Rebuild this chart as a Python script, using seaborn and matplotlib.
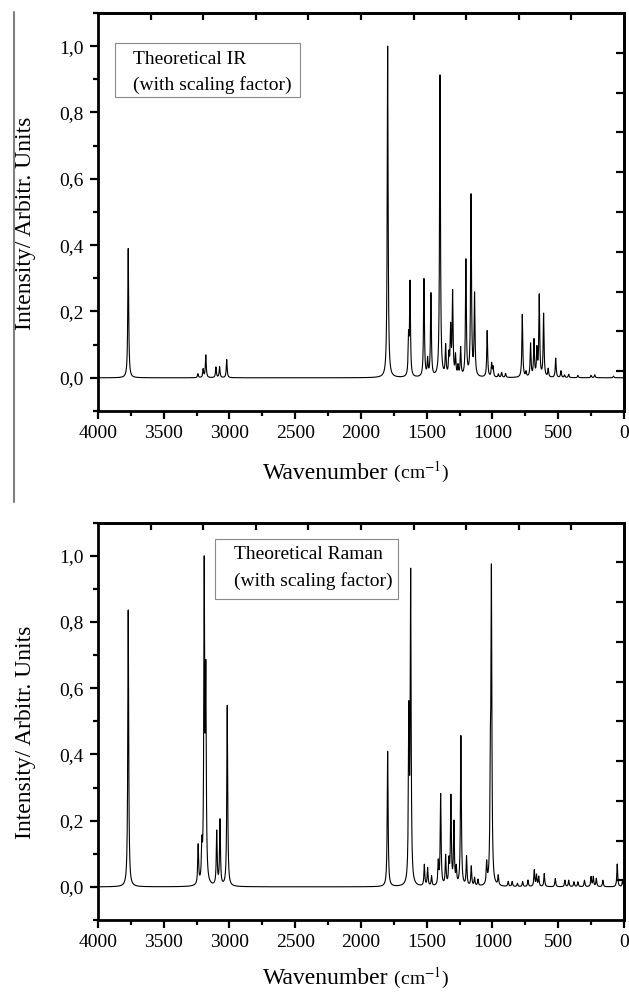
import matplotlib.pyplot as plt
import numpy as np
import pandas as pd
import seaborn as sns
from matplotlib.lines import Line2D
from matplotlib.offsetbox import AnnotationBbox, HPacker, TextArea
from matplotlib.patches import Rectangle
from matplotlib.ticker import MultipleLocator

# calculated bands: wavenumber (cm-1) and relative intensity
ir_positions = [3770, 3240, 3200, 3180, 3103, 3075, 3021,
                1797, 1638, 1627, 1521, 1493, 1468, 1399, 1356, 1331, 1318, 1303,
                1281, 1262, 1242, 1202, 1163, 1136, 1040, 1006, 995, 955, 930, 900,
                773, 745, 710, 684, 662, 644, 611, 576, 519, 479, 452, 420, 350,
                250, 222, 80]
ir_heights = [0.39, 0.012, 0.025, 0.068, 0.032, 0.033, 0.055,
              1.0, 0.11, 0.28, 0.295, 0.05, 0.25, 0.91, 0.09, 0.06, 0.14, 0.25,
              0.06, 0.03, 0.085, 0.35, 0.545, 0.245, 0.14, 0.04, 0.03, 0.01, 0.015, 0.012,
              0.19, 0.015, 0.1, 0.11, 0.08, 0.245, 0.19, 0.025, 0.058, 0.02, 0.008, 0.01, 0.007,
              0.007, 0.009, 0.005]

raman_positions = [3770, 3238, 3210, 3192, 3180, 3097, 3072, 3017,
                   1797, 1636, 1622, 1518, 1493, 1463, 1412, 1394, 1356, 1331, 1316,
                   1293, 1275, 1240, 1197, 1161, 1136, 1110, 1044, 1016, 1008, 956,
                   880, 850, 810, 770, 730, 682, 665, 648, 606, 522, 449, 420, 380,
                   350, 300, 250, 233, 210, 160, 51, 10]
raman_heights = [0.85, 0.12, 0.10, 0.95, 0.60, 0.165, 0.2, 0.555,
                 0.415, 0.50, 0.94, 0.065, 0.055, 0.03, 0.07, 0.28, 0.09, 0.07, 0.27,
                 0.19, 0.05, 0.46, 0.09, 0.06, 0.025, 0.02, 0.065, 0.30, 0.93, 0.03,
                 0.015, 0.015, 0.01, 0.015, 0.02, 0.05, 0.035, 0.03, 0.04, 0.025, 0.02, 0.02, 0.015,
                 0.015, 0.02, 0.03, 0.03, 0.025, 0.02, 0.07, 0.02]

x_ticks = [4000, 3500, 3000, 2500, 2000, 1500, 1000, 500, 0]
x_tick_labels = ["4000", "3500", "3000", "2500", "2000", "1500", "1000", "500", "0"]
y_ticks = [0.0, 0.2, 0.4, 0.6, 0.8, 1.0]
y_tick_labels = ["0,0", "0,2", "0,4", "0,6", "0,8", "1,0"]
box_titles = ["Theoretical IR", "Theoretical Raman"]
box_subtitle = "(with scaling factor)"


def broaden(positions, heights, hwhm=4.0):
    # Lorentzian broadening of the stick spectrum, normalised to the strongest band
    wn = np.linspace(0, 4000, 8001)
    pos = np.asarray(positions, dtype=float)[:, None]
    h = np.asarray(heights, dtype=float)[:, None]
    y = (h * hwhm ** 2 / ((wn - pos) ** 2 + hwhm ** 2)).sum(axis=0)
    return pd.DataFrame({"wavenumber": wn, "intensity": y / y.max()})


sns.set_theme(style="ticks")
plt.rcParams["font.family"] = ["Liberation Serif", "DejaVu Serif"]
plt.rcParams["mathtext.fontset"] = "stix"
plt.rcParams["text.color"] = "black"
plt.rcParams["axes.labelcolor"] = "black"
plt.rcParams["xtick.color"] = "black"
plt.rcParams["ytick.color"] = "black"

fig = plt.figure(figsize=(6.29, 9.92), dpi=100)
ax_ir = fig.add_axes([0.1558, 0.5857, 0.8362, 0.4012])
ax_ra = fig.add_axes([0.1558, 0.0726, 0.8362, 0.4005])

spectra = [broaden(ir_positions, ir_heights), broaden(raman_positions, raman_heights)]
boxes = [
    dict(rect=(0.0323, 0.789, 0.352, 0.136), tx=0.0665, ty=(0.884, 0.819), xl=-0.155),
    dict(rect=(0.2224, 0.808, 0.348, 0.151), tx=0.258, ty=(0.919, 0.852), xl=-0.147),
]

for ax, df, title, box in zip([ax_ir, ax_ra], spectra, box_titles, boxes):
    sns.lineplot(data=df, x="wavenumber", y="intensity", ax=ax, color="black",
                 linewidth=0.8, estimator=None, sort=False)
    ax.set_xlim(4000, 0)
    ax.set_ylim(-0.1, 1.1)
    ax.set_xticks(x_ticks)
    ax.set_xticklabels(x_tick_labels, fontsize=14)
    ax.set_yticks(y_ticks)
    ax.set_yticklabels(y_tick_labels, fontsize=14)
    ax.xaxis.set_minor_locator(MultipleLocator(250))
    ax.yaxis.set_minor_locator(MultipleLocator(0.1))
    ax.tick_params(axis="both", which="major", direction="out", length=6, width=1.6, pad=4, color="black")
    ax.tick_params(axis="both", which="minor", direction="out", length=3.5, width=1.6, color="black")
    for sp in ax.spines.values():
        sp.set_visible(True)
        sp.set_linewidth(2.0)
        sp.set_color("black")

    # mirrored axes on top and right carry their own inward ticks
    top = ax.secondary_xaxis("top")
    top.set_xticks(np.arange(400, 4000, 400))
    top.tick_params(direction="in", length=5, width=1.6, labeltop=False, color="black")
    top.spines["top"].set_linewidth(2.0)
    right = ax.secondary_yaxis("right")
    right.set_yticks(np.arange(1, 10) * 0.12 - 0.1)
    right.tick_params(direction="in", length=6, width=1.6, labelright=False, color="black")
    right.spines["right"].set_linewidth(2.0)

    ax.set_xlabel("")
    ax.set_ylabel("Intensity/ Arbitr. Units", fontsize=17)
    ax.yaxis.label.set_va("center")
    ax.yaxis.set_label_coords(-0.137, 0.472)

    label = HPacker(children=[TextArea("Wavenumber", textprops=dict(size=17)),
                              TextArea(" (cm$^{-1}$)", textprops=dict(size=14))],
                    align="baseline", pad=0, sep=0)
    ax.add_artist(AnnotationBbox(label, (0.4905, box["xl"]), xycoords="axes fraction",
                                 box_alignment=(0.5, 0.5), frameon=False, annotation_clip=False))

    x0, y0, w, h = box["rect"]
    ax.add_patch(Rectangle((x0, y0), w, h, transform=ax.transAxes, facecolor="white",
                           edgecolor="#8a8a8a", linewidth=0.8, zorder=5))
    ax.text(box["tx"], box["ty"][0], title, transform=ax.transAxes, fontsize=14,
            ha="left", va="center", zorder=6)
    ax.text(box["tx"], box["ty"][1], box_subtitle, transform=ax.transAxes, fontsize=14,
            ha="left", va="center", zorder=6)

fig.add_artist(Line2D([0.0223, 0.0223], [0.494, 0.988], transform=fig.transFigure,
                      color="#808080", linewidth=1.5))

fig.savefig("out.png", dpi=100)
